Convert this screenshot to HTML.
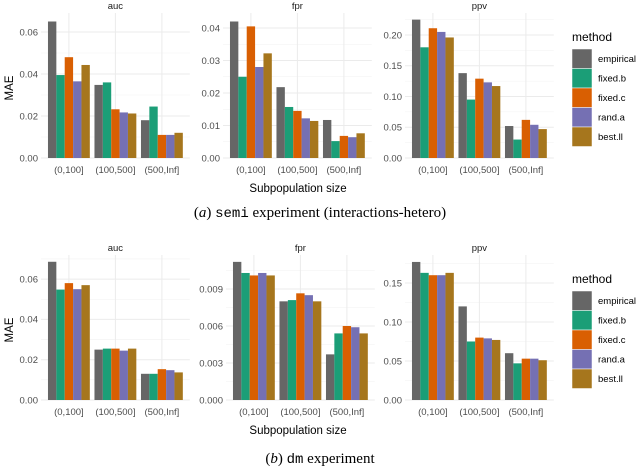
<!DOCTYPE html>
<html><head><meta charset="utf-8"><style>
body{margin:0;background:#fff;width:640px;height:468px;overflow:hidden}
svg{display:block}
</style></head><body>
<svg id="chart" width="640" height="468" xmlns="http://www.w3.org/2000/svg" font-family="Liberation Sans, sans-serif"></svg>
<script>
const methods=["empirical","fixed.b","fixed.c","rand.a","best.ll"];
const colors=["#666666","#1B9E77","#D95F02","#7570B3","#A6761D"];
const categories=["(0,100]","(100,500]","(500,Inf]"];
// top: semi experiment
const semiAuc=[[0.065,0.0395,0.048,0.0365,0.0443],[0.0348,0.036,0.0232,0.0217,0.0212],[0.018,0.0245,0.011,0.011,0.012]];
const semiFpr=[[0.042,0.025,0.0405,0.028,0.0322],[0.0218,0.0157,0.0145,0.0122,0.0114],[0.0117,0.0052,0.0068,0.0064,0.0076]];
const semiPpv=[[0.225,0.180,0.211,0.205,0.196],[0.138,0.095,0.129,0.123,0.117],[0.052,0.030,0.062,0.054,0.047]];
// bottom: dm experiment
const dmAuc=[[0.0686,0.0548,0.058,0.055,0.057],[0.025,0.0255,0.0255,0.0245,0.0255],[0.013,0.013,0.0153,0.0148,0.0137]];
const dmFpr=[[0.0112,0.0103,0.0101,0.0103,0.0101],[0.0080,0.0081,0.00865,0.0085,0.0080],[0.0037,0.0054,0.0060,0.0059,0.0054]];
const dmPpv=[[0.177,0.163,0.160,0.160,0.163],[0.120,0.075,0.080,0.079,0.077],[0.060,0.047,0.053,0.053,0.051]];
const ticksAuc=[0,0.02,0.04,0.06];
const ticksSemiFpr=[0,0.01,0.02,0.03,0.04];
const ticksSemiPpv=[0,0.05,0.10,0.15,0.20];
const ticksDmFpr=[0,0.003,0.006,0.009];
const ticksDmPpv=[0,0.05,0.10,0.15];

const svg=document.getElementById('chart');
const NS="http://www.w3.org/2000/svg";
function mk(tag,attrs,parent){const e=document.createElementNS(NS,tag);for(const k in attrs)e.setAttribute(k,attrs[k]);(parent||svg).appendChild(e);return e;}
function txt(s,attrs,parent){const e=mk('text',attrs,parent);e.textContent=s;return e;}

function panel(name,title,data,ticks,fmt,left,top,bottom,perUnit,y0){
  const g=mk('g',{});
  
  
  const unit=46.5, right=left+3.2*unit;
  const y=v=>y0-v*perUnit;
  const xc=i=>left+(i+0.6)*unit;
  for(let i=0;i<ticks.length;i++){
    const mid=i<ticks.length-1?(ticks[i]+ticks[i+1])/2:ticks[i]+(ticks[1]-ticks[0])/2;
    if(y(mid)>=top) mk('line',{x1:left,x2:right,y1:y(mid),y2:y(mid),stroke:'#f2f2f2','stroke-width':0.6},g);
  }
  ticks.forEach(t=>{
    mk('line',{x1:left,x2:right,y1:y(t),y2:y(t),stroke:'#ebebeb','stroke-width':1},g);
    const l=txt(fmt(t),{x:left-3,y:y(t)+3.3,'font-size':9.5,fill:'#4d4d4d','text-anchor':'end'},g);
    
    
  });
  categories.forEach((c,i)=>{
    mk('line',{x1:xc(i),x2:xc(i),y1:top,y2:y0,stroke:'#ebebeb','stroke-width':1},g);
    const l=txt(c,{x:xc(i),y:y0+15,'font-size':9.5,fill:'#4d4d4d','text-anchor':'middle'},g);
    
    
  });
  const bw=unit*0.9/5;
  data.forEach((grp,i)=>{
    grp.forEach((v,j)=>{
      const r=mk('rect',{x:xc(i)-unit*0.45+j*bw,y:y(v),width:bw,height:v*perUnit,fill:colors[j]},g);
      
      
    });
  });
  const t=txt(title,{x:(left+right)/2,y:top-4,'font-size':9.5,fill:'#1a1a1a','text-anchor':'middle'},g);
  
  
}
const f2=v=>v.toFixed(2), f3=v=>v.toFixed(3);
panel('panel-semi-auc','auc',semiAuc,ticksAuc,f2,41,13,158,2100,158);
panel('panel-semi-fpr','fpr',semiFpr,ticksSemiFpr,f2,223,13,158,3250,158);
panel('panel-semi-ppv','ppv',semiPpv,ticksSemiPpv,f2,405,13,158,615,158);
panel('panel-dm-auc','auc',dmAuc,ticksAuc,f2,41,255,400,2015,400);
panel('panel-dm-fpr','fpr',dmFpr,ticksDmFpr,f3,226,255,400,12333,400);
panel('panel-dm-ppv','ppv',dmPpv,ticksDmPpv,f2,405,255,400,780,400);

function labels(yTitle,yAx,yLeg,capY,capHtml){
  let e=txt('Subpopulation size',{x:298,y:yTitle,'font-size':11.5,fill:'#000','text-anchor':'middle'});
  
  
  e=txt('MAE',{x:0,y:0,'font-size':11.5,fill:'#000','text-anchor':'middle',transform:`translate(13,${yAx}) rotate(-90)`});
  
  
  e=txt('method',{x:572,y:yLeg,'font-size':12,fill:'#000'});
  
  
  methods.forEach((m,j)=>{
    const ky=yLeg+8+j*19.5;
    const r=mk('rect',{x:572,y:ky,width:20,height:19.5,fill:colors[j],stroke:'#fff','stroke-width':0.5});
    
    
    const l=txt(m,{x:598,y:ky+13,'font-size':9.5,fill:'#000'});
    
    
  });
  const c=mk('text',{x:320,y:capY,'font-size':15,'font-family':'Liberation Serif, serif','text-anchor':'middle',fill:'#000'});
  c.innerHTML=capHtml;
  
  
}
labels(192,88,41,217,'(<tspan font-style="italic">a</tspan>) <tspan font-family="Liberation Mono, monospace" font-size="14">semi</tspan> experiment (interactions-hetero)');
labels(434,330,283,463,'(<tspan font-style="italic">b</tspan>) <tspan font-family="Liberation Mono, monospace" font-size="14">dm</tspan> experiment');
</script>
</body></html>
